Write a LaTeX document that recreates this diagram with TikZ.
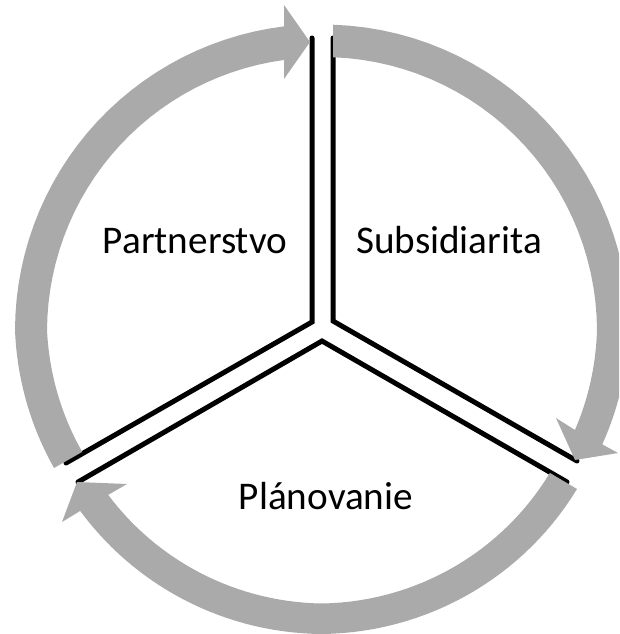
\documentclass[tikz,border=0pt]{standalone}
\usepackage{fontspec}
\setmainfont{Carlito}
\definecolor{ringgray}{HTML}{AAAAAA}
\newcommand\ringpart[4]{-- plot[domain=#3:#4,samples=30,variable=\t] ({322+(#1+(#2-(#1))*(\t-(#3))/((#4)-(#3)))*cos(\t)},{-330+(#1+(#2-(#1))*(\t-(#3))/((#4)-(#3)))*sin(\t)})}
\tikzset{
  divider/.style={draw=black,line width=5pt,line join=miter,line cap=round},
  ringarrow/.style={fill=ringgray,draw=none},
  label/.style={font=\fontsize{39.2pt}{47pt}\selectfont,inner sep=0pt,anchor=base,text=black}
}
\begin{document}
\begin{tikzpicture}[x=1pt,y=1pt]
\clip (0,0) rectangle (619,-634);
\fill[white] (0,0) rectangle (619,-634);
% dividers
\coordinate (lt) at (312,-38);
\coordinate (lm) at (312,-322);
\coordinate (lb) at (66,-463);
\coordinate (rt) at (333,-38);
\coordinate (rm) at (333,-321);
\coordinate (rb) at (577,-461);
\coordinate (bl) at (78,-482);
\coordinate (bm) at (322,-341);
\coordinate (br) at (567,-482);
\draw[divider] (lt) -- (lm) -- (lb);
\draw[divider] (rt) -- (rm) -- (rb);
\draw[divider] (bl) -- (bm) -- (br);
% arrow 1: top to lower right
\path[ringarrow] (333,-25) \ringpart{305.5}{307}{87.9}{0} \ringpart{307}{302.7}{0}{-22.2}
  -- (618,-453) -- (575,-460) -- (556,-418) -- (575,-430)
  \ringpart{272}{275}{-21.6}{0} \ringpart{275}{273}{0}{87.7} -- (333,-57) -- cycle;
% arrow 2: lower right to lower left
\path[ringarrow] (577,-489) \ringpart{300.5}{304}{-32}{-90} \ringpart{304}{302}{-90}{-143.2}
  -- (62,-522) -- (77,-482) -- (127,-484) -- (108,-495)
  \ringpart{270}{273.5}{-142.4}{-90} \ringpart{273.5}{269}{-90}{-32.1} -- (550,-473) -- cycle;
% arrow 3: lower left to top
\path[ringarrow] (54,-468) \ringpart{301.4}{307}{207.2}{180} \ringpart{307}{306}{180}{97.1}
  -- (284,-5) -- (310,-42) -- (284,-79) -- (284,-60)
  \ringpart{272.7}{275}{98}{180} \ringpart{275}{269}{180}{206.9} -- (82,-452) -- cycle;
% labels
\node[label] (partner) at (195,-253) {Partnerstvo};
\node[label] (subsid) at (449,-253) {Subsidiarita};
\node[label] (plan) at (326,-509) {Plánovanie};
\end{tikzpicture}
\end{document}
